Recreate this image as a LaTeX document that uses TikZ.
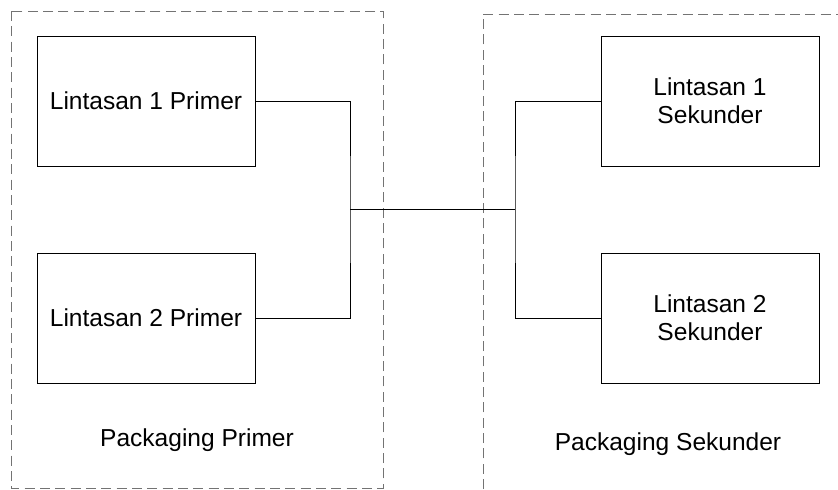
\documentclass[tikz,border=0pt]{standalone}
\usepackage{fontspec}
\setmainfont{Liberation Sans}
\begin{document}
\begin{tikzpicture}[x=0.75pt,y=-0.75pt,
  blk/.style={draw=black,line width=0.75pt,minimum width=163.5pt,minimum height=97.5pt,inner sep=0pt,align=center,font=\fontsize{18.4}{21}\selectfont},
  lbl/.style={inner sep=0pt,font=\fontsize{18.4}{21}\selectfont},
  grp/.style={draw=black!55,line width=0.75pt,dash pattern=on 7.5pt off 4pt},
  wire/.style={draw=black,line width=0.75pt}]
\useasboundingbox (0,0) rectangle (838,489);
\fill[white] (0,0) rectangle (838,489);
% group frames
\draw[grp] (11,11) rectangle (383,488);
\draw[grp] (483,489) -- (483,14) -- (838,14);
% blocks
\node[blk] (l1p) at (146,101) {Lintasan 1 Primer};
\node[blk] (l2p) at (146,318) {Lintasan 2 Primer};
\node[blk] (l1s) at (710,101) {Lintasan 1\\Sekunder};
\node[blk] (l2s) at (710,318) {Lintasan 2\\Sekunder};
% junctions
\coordinate (jl) at (350,209);
\coordinate (jr) at (515,209);
\draw[wire] (l1p.east) -| (jl) |- (l2p.east);
\draw[wire] (jl) -- (jr);
\draw[wire] (l1s.west) -| (jr) |- (l2s.west);
% labels
\node[lbl] (pp) at (197,440) {Packaging Primer};
\node[lbl] (ps) at (668,444) {Packaging Sekunder};
\end{tikzpicture}
\end{document}
